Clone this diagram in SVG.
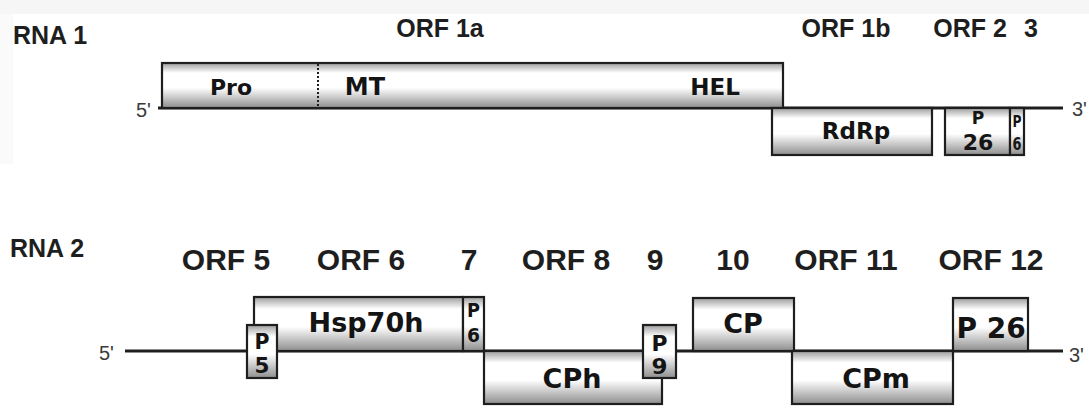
<svg xmlns="http://www.w3.org/2000/svg" width="1089" height="411" viewBox="0 0 1089 411">
  <defs>
    <!-- vertical shading used by every ORF box -->
    <linearGradient id="shade" x1="0" y1="0" x2="0" y2="1">
      <stop offset="0" stop-color="#9c9c9c"/>
      <stop offset="0.22" stop-color="#ffffff"/>
      <stop offset="0.55" stop-color="#ffffff"/>
      <stop offset="1" stop-color="#8e8e8e"/>
    </linearGradient>
    <style>
      .box { fill: url(#shade); stroke: #1e1e1e; stroke-width: 2.2; }
      .strand { stroke: #1e1e1e; stroke-width: 3; fill: none; }
      .title { font-family: "Liberation Sans", Arial, sans-serif; font-weight: bold; fill: #1e1e1e; }
      .lbl { font-family: "DejaVu Sans", Verdana, sans-serif; font-weight: bold; fill: #141414; text-anchor: middle; }
      .end { font-family: "Liberation Sans", Arial, sans-serif; fill: #3a3a3a; font-size: 20px; }
      .mid { text-anchor: middle; }
    </style>
  </defs>

  <rect x="0" y="0" width="1089" height="411" fill="#ffffff"/>
  <rect x="0" y="0" width="1089" height="14" fill="#f6f6f6"/>
  <rect x="0" y="14" width="13" height="150" fill="#fafafa"/>

  <!-- genome strands -->
  <g id="connectors">
    <line class="strand" x1="158" y1="108" x2="1063" y2="108"/>
    <line class="strand" x1="125" y1="351" x2="1063" y2="351"/>
  </g>

  <!-- RNA 1 -->
  <g id="rna1-labels">
    <text class="title" x="13" y="44" font-size="25">RNA 1</text>
    <text class="title mid" x="440" y="37" font-size="25">ORF 1a</text>
    <text class="title mid" x="846" y="37" font-size="25">ORF 1b</text>
    <text class="title mid" x="970" y="37" font-size="25">ORF 2</text>
    <text class="title mid" x="1031" y="37" font-size="25">3</text>
    <text class="end" x="136" y="117">5'</text>
    <text class="end" x="1072" y="116">3'</text>
  </g>

  <g id="orf1a">
    <rect class="box" x="162" y="63" width="621" height="45"/>
    <line x1="318" y1="64" x2="318" y2="107" stroke="#1e1e1e" stroke-width="2" stroke-dasharray="2,2"/>
    <text class="lbl" x="231" y="95" font-size="22">Pro</text>
    <text class="lbl" x="365" y="95" font-size="24">MT</text>
    <text class="lbl" x="715" y="95" font-size="23">HEL</text>
  </g>

  <g id="orf1b">
    <rect class="box" x="772" y="108" width="160" height="47"/>
    <text class="lbl" x="856" y="139" font-size="23">RdRp</text>
  </g>

  <g id="orf2">
    <rect class="box" x="945" y="108" width="65" height="47"/>
    <text class="lbl" x="978" y="124" font-size="17">P</text>
    <text class="lbl" x="978" y="150" font-size="22">26</text>
  </g>

  <g id="orf3">
    <rect class="box" x="1010" y="108" width="14" height="47"/>
    <text class="lbl" x="1017" y="127" font-size="16" textLength="9" lengthAdjust="spacingAndGlyphs">P</text>
    <text class="lbl" x="1017" y="150" font-size="17" textLength="9" lengthAdjust="spacingAndGlyphs">6</text>
  </g>

  <!-- RNA 2 -->
  <g id="rna2-labels">
    <text class="title" x="10" y="257" font-size="25">RNA 2</text>
    <text class="title mid" x="226" y="270" font-size="30">ORF 5</text>
    <text class="title mid" x="361" y="270" font-size="30">ORF 6</text>
    <text class="title mid" x="469" y="270" font-size="30">7</text>
    <text class="title mid" x="566" y="270" font-size="30">ORF 8</text>
    <text class="title mid" x="655" y="270" font-size="30">9</text>
    <text class="title mid" x="733" y="270" font-size="30">10</text>
    <text class="title mid" x="846" y="270" font-size="30">ORF 11</text>
    <text class="title mid" x="991" y="270" font-size="30">ORF 12</text>
    <text class="end" x="99" y="360">5'</text>
    <text class="end" x="1069" y="362">3'</text>
  </g>

  <g id="orf6">
    <rect class="box" x="254" y="297" width="209" height="54"/>
    <text class="lbl" x="366" y="332" font-size="27">Hsp70h</text>
  </g>

  <g id="orf5">
    <rect class="box" x="247" y="325" width="30" height="53"/>
    <text class="lbl" x="262" y="349" font-size="21" textLength="15" lengthAdjust="spacingAndGlyphs">P</text>
    <text class="lbl" x="262" y="373" font-size="21" textLength="15" lengthAdjust="spacingAndGlyphs">5</text>
  </g>

  <g id="orf7">
    <rect class="box" x="463" y="297" width="21" height="54"/>
    <text class="lbl" x="473.5" y="317" font-size="19" textLength="13" lengthAdjust="spacingAndGlyphs">P</text>
    <text class="lbl" x="473.5" y="342" font-size="20" textLength="13" lengthAdjust="spacingAndGlyphs">6</text>
  </g>

  <g id="orf8">
    <rect class="box" x="484" y="351" width="178" height="53"/>
    <text class="lbl" x="572" y="388" font-size="27">CPh</text>
  </g>

  <g id="orf9">
    <rect class="box" x="643" y="325" width="33" height="53"/>
    <text class="lbl" x="659.5" y="351" font-size="22" textLength="16" lengthAdjust="spacingAndGlyphs">P</text>
    <text class="lbl" x="659.5" y="374" font-size="22" textLength="16" lengthAdjust="spacingAndGlyphs">9</text>
  </g>

  <g id="orf10">
    <rect class="box" x="693" y="298" width="101" height="53"/>
    <text class="lbl" x="743" y="333" font-size="27">CP</text>
  </g>

  <g id="orf11">
    <rect class="box" x="792" y="351" width="161" height="53"/>
    <text class="lbl" x="876" y="388" font-size="27">CPm</text>
  </g>

  <g id="orf12">
    <rect class="box" x="953" y="298" width="75" height="53"/>
    <text class="lbl" x="991" y="338" font-size="28">P 26</text>
  </g>
</svg>
